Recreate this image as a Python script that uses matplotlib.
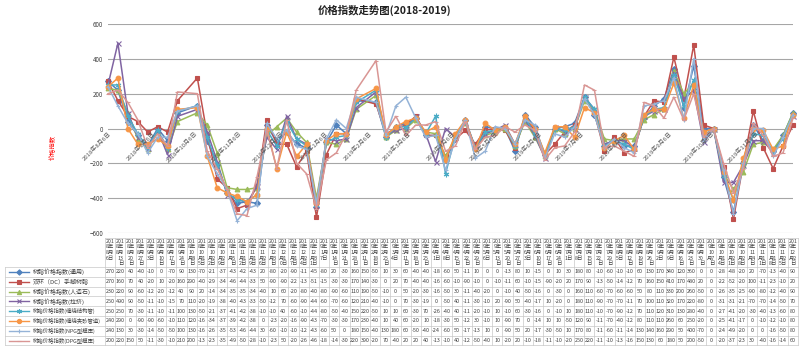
import matplotlib
matplotlib.use('Agg')
import matplotlib.pyplot as plt
import pandas as pd

plt.rcParams['font.family'] = ['Noto Sans CJK SC', 'DejaVu Sans']

dates = ['2018-08-06', '2018-08-13', '2018-08-20', '2018-08-27', '2018-09-03', '2018-09-10',
         '2018-09-17', '2018-09-24', '2018-10-08', '2018-10-15', '2018-10-22', '2018-10-29',
         '2018-11-05', '2018-11-12', '2018-11-19', '2018-11-26', '2018-12-03', '2018-12-10',
         '2018-12-17', '2018-12-24', '2018-12-31', '2019-01-07', '2019-01-14', '2019-01-21',
         '2019-01-28', '2019-02-11', '2019-02-18', '2019-02-25', '2019-03-04', '2019-03-11',
         '2019-03-18', '2019-03-25', '2019-04-01', '2019-04-08', '2019-04-15', '2019-04-22',
         '2019-04-29', '2019-05-06', '2019-05-13', '2019-05-20', '2019-05-27', '2019-06-03',
         '2019-06-10', '2019-06-17', '2019-06-24', '2019-07-01', '2019-07-08', '2019-07-15',
         '2019-07-22', '2019-07-29', '2019-08-05', '2019-08-12', '2019-08-19', '2019-08-26',
         '2019-09-02', '2019-09-09', '2019-09-16', '2019-09-23', '2019-09-30', '2019-10-07',
         '2019-10-14', '2019-10-21', '2019-10-28', '2019-11-04', '2019-11-11', '2019-11-18',
         '2019-11-25', '2019-12-02']

names = ['树脂价格指数(通用)', '双环（DC）手糊树脂', '树脂价格指数(人造石)', '树脂价格指数(拉挤)',
         '树脂价格指数(缠绕结构管)', '树脂价格指数(缠绕夹砂管道)', '树脂价格指数(NPG型模压)',
         '树脂价格指数(DPG型模压)']

s1 = [270, 220, 40, -40, -100, 0, -70, 90, 130, -70, -210, -370, -430, -420, -430, 20, -80, -20, -90, -110,
      -450, -80, 20, -30, 160, 150, -50, 10, 30, 60, -40, -40, -180, -60, 50, -110, 10, 0, 0, -130,
      80, 10, -150, 0, 10, 30, 180, 80, -100, -60, -100, -100, 60, 130, 170, 340, 120, 360, 0, 0,
      -280, -480, -200, 20, -70, -130, -40, 90]
s2 = [270, 160, 70, 40, -20, 10, -20, 160, 290, -40, -290, -340, -460, -440, -330, 50, -90, -90, -220, -130,
      -510, -150, -30, -30, 170, 140, -30, 0, 20, 70, -40, -40, -160, -60, -10, -90, -10, 0, -10, -110,
      60, -10, -150, -90, -20, 20, 170, 90, -130, -50, -140, -120, 70, 160, 150, 410, 170, 480, 20, 0,
      -220, -520, -200, 100, -110, -230, -100, 20]
s3 = [230, 220, 90, -60, -120, -20, -120, 40, 90, 20, -140, -340, -350, -350, -340, -40, 10, 60, -20, -80,
      -400, -80, -90, -60, 110, 190, -50, -10, 0, 50, -20, -30, -160, -50, 30, -110, -40, -20, 0, -100,
      40, -50, -160, 0, -30, 0, 160, 110, -60, -70, -60, -60, 50, 80, 110, 330, 200, 260, -50, 0,
      -260, -350, -250, -90, -80, -120, -40, 90]
s4 = [250, 490, 90, -50, -110, -10, -150, 70, 110, -20, -190, -380, -400, -430, -330, -50, -120, 70, -60, -90,
      -440, -60, -70, -60, 120, 210, -40, -10, 0, 70, -30, -190, 0, -50, 40, -110, -30, -10, 20, -90,
      50, -40, -170, 10, -20, 0, 180, 110, -90, -70, -70, -110, 70, 100, 110, 320, 170, 220, -80, 0,
      -310, -310, -210, -70, -70, -140, -50, 70]
s5 = [250, 250, 70, -30, -110, -10, -110, 100, 130, -50, -210, -370, -410, -420, -380, -10, -100, 40, -60, -100,
      -440, -80, -50, -40, 150, 220, -50, 10, 10, 60, -30, 70, -260, -40, 40, -110, -20, -10, 10, -100,
      60, -30, -160, 0, -10, 10, 180, 110, -100, -70, -90, -120, 70, 110, 120, 310, 130, 280, -40, 0,
      -270, -410, -200, -30, -40, -130, -60, 80]
s6 = [240, 290, 0, -90, -90, -60, -100, 110, 120, -160, -340, -370, -390, -420, -380, 0, -230, -20, -160, -90,
      -430, -70, -30, -30, 170, 230, -40, 10, 40, 60, -20, 10, -180, -30, 50, -120, 30, -10, 10, -90,
      70, 0, -140, 10, 10, -50, 120, 90, -110, -70, -40, -120, 80, 110, 110, 260, 60, 250, -20, 0,
      -250, -410, -170, 0, -10, -120, -100, 80]
s7 = [240, 130, 30, -30, -140, -50, -50, 100, 130, -160, -260, -350, -530, -460, -440, 30, -60, -10, -100, -120,
      -430, -60, 50, 0, 180, 150, -40, 130, 180, 60, -50, -40, -240, -60, 50, -170, -130, 10, 0, -90,
      50, 20, -170, -30, -50, 10, 170, 80, -110, -60, -110, -140, 130, 140, 160, 290, 50, 400, -70, 0,
      -240, -490, -200, 0, 0, -160, -50, 80]
s8 = [200, 220, 150, 50, -110, -30, -100, 210, 200, -130, -230, -350, -490, -500, -280, -10, -230, 50, -200, -260,
      -460, -180, -140, -30, 220, 390, -20, 70, -40, 20, 20, 40, -130, -100, 40, -120, -50, -40, 10, -20,
      20, -10, -180, -110, -100, -20, 250, 220, -110, -100, -130, -160, 150, 130, 60, 180, 50, 200, -50, 0,
      -200, -370, -230, 30, -40, -160, -140, 60]

series = [s1, s2, s3, s4, s5, s6, s7, s8]
colors = ['#4F81BD', '#C0504D', '#9BBB59', '#8064A2', '#4BACC6', '#F79646', '#95B3D7', '#D99694']
markers = ['D', 's', '^', 'x', (6, 2, 0), 'o', '+', '_']
msizes = [3.0, 3.4, 3.4, 3.6, 4.0, 3.4, 3.0, 3.0]

W, H = 800, 354
fig = plt.figure(figsize=(8, 3.54), dpi=100)
fig.patch.set_facecolor('white')

def fx(px):
    return px / W

def fy(py):
    return 1 - py / H

PL, PR, PT, PB = 108, 793, 24, 233
ax = fig.add_axes([fx(PL), fy(PB), (PR - PL) / W, (PB - PT) / H])
d = pd.to_datetime(pd.Series(dates))
days = (d - d.iloc[0]).dt.days.values
ax.set_xlim(0, days[-1])
ax.set_ylim(-600, 600)
yt = [-600, -400, -200, 0, 200, 400, 600]
ax.set_yticks(yt)
ax.set_xticks([])
for sp in ax.spines.values():
    sp.set_visible(False)
ax.tick_params(axis='y', length=0, labelsize=4.5, colors='#404040', pad=3.5)
for y in yt:
    ax.axhline(y, color='#A6A6A6', lw=0.8, zorder=0)

for vals, c, m, ms in zip(series, colors, markers, msizes):
    ax.plot(days, vals, color=c, lw=1.1, marker=m, ms=ms, mfc=c, mec=c, mew=0.8,
            clip_on=False, zorder=3)

# month labels along the zero line
start = d.iloc[0]
for k in range(16):
    dt = start + pd.DateOffset(months=k)
    dd = (dt - start).days
    ax.annotate(f'{dt.year}年{dt.month}月{dt.day}日', xy=(dd, 0), xytext=(1.5, -3),
                textcoords='offset points', rotation=45, ha='right', va='center',
                rotation_mode='anchor', fontsize=4.3, color='#595959', annotation_clip=False,
                zorder=4)

# overlay in pixel coordinates for the data table
ov = fig.add_axes([0, 0, 1, 1])
ov.set_xlim(0, W)
ov.set_ylim(H, 0)
ov.axis('off')

TL, TR = 105, 798
ncol = len(dates)
cw = (TR - TL) / ncol
TT, HB, RH = 238, 267, 9.8
TB = HB + 8 * RH
LL = 5
gc = '#C8C8C8'
for i in range(ncol + 1):
    x = TL + i * cw
    ov.plot([x, x], [TT, TB], color=gc, lw=0.5)
ov.plot([LL, LL], [HB, TB], color=gc, lw=0.5)
ov.plot([TL, TR], [TT, TT], color=gc, lw=0.5)
for k in range(9):
    y = HB + k * RH
    ov.plot([LL, TR], [y, y], color=gc, lw=0.5)


def wrap(s, cap=3):
    lines, cur, w = [], '', 0
    for ch in s:
        cwid = 1 if ord(ch) < 128 else 2
        if w + cwid > cap and cur:
            lines.append(cur)
            cur, w = '', 0
        cur += ch
        w += cwid
    if cur:
        lines.append(cur)
    return lines


for i, dt in enumerate(d):
    cx = TL + (i + 0.5) * cw
    lab = f'{dt.year}年{dt.month}月{dt.day}日'
    for j, line in enumerate(wrap(lab)):
        ov.text(cx, 241.5 + j * 5.5, line, fontsize=3.8, ha='center', va='center', color='#404040')

for r, (vals, name, c, m, ms) in enumerate(zip(series, names, colors, markers, msizes)):
    yc = HB + (r + 0.5) * RH
    for i, v in enumerate(vals):
        cx = TL + (i + 0.5) * cw
        ov.text(cx, yc, str(v)[:3], fontsize=3.9, ha='center', va='center', color='#404040')
    ov.plot([9, 29], [yc, yc], color=c, lw=1.0)
    ov.plot([19], [yc], marker=m, ms=ms * 0.9, color=c, mew=0.8)
    fs = 4.3 if len(name) <= 12 else 3.9
    ov.text(33, yc, name, fontsize=fs, ha='left', va='center', color='#404040')

fig.text(fx(385), fy(10), '价格指数走势图(2018-2019)', fontsize=7.5, fontweight='bold',
         ha='center', va='center', color='#202020')
fig.text(fx(53), fy(148), '价格指数', rotation=90, color='red', fontsize=4.5,
         ha='center', va='center')

fig.savefig('out.png', dpi=100)
